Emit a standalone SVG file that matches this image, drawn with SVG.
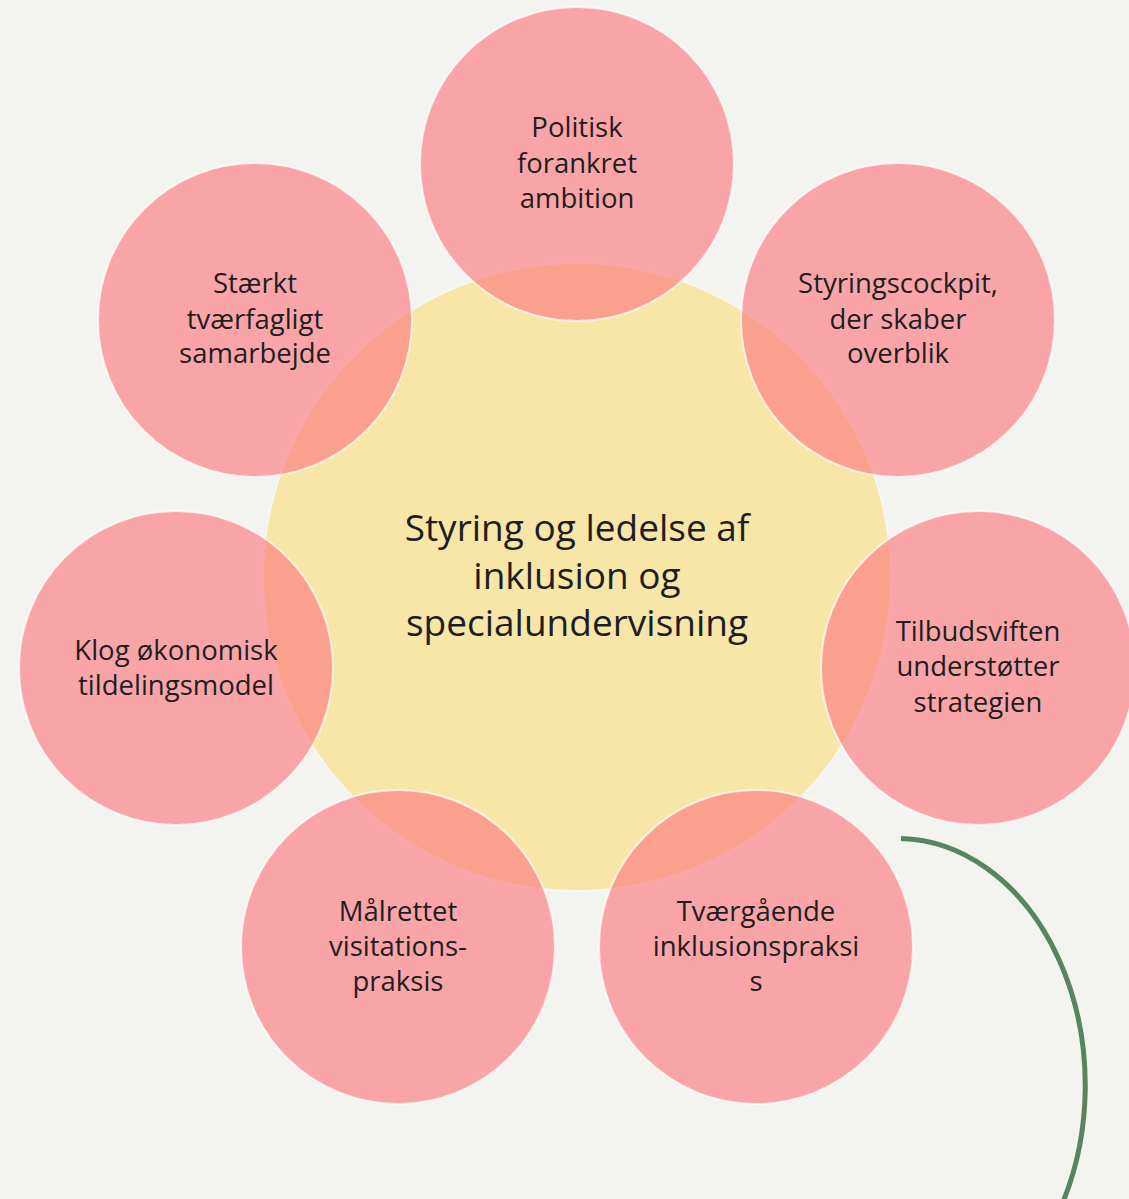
<svg xmlns="http://www.w3.org/2000/svg" width="1129" height="1199" viewBox="0 0 1129 1199">
<style>
.bg{fill:#f3f3ef}
.core{fill:#f8e6a8;stroke:#f6f6f2;stroke-width:2}
.petal{fill:#fb747c;fill-opacity:0.62;stroke:#ffffff;stroke-opacity:0.7;stroke-width:2}
.lbl{font-family:"Open Sans","Liberation Sans",Arial,sans-serif;font-size:27.5px;fill:#1e1e1e;text-anchor:middle}
.main{font-family:"Open Sans","Liberation Sans",Arial,sans-serif;font-size:37px;fill:#1e1e1e;text-anchor:middle}
.conn{fill:none;stroke:#578560;stroke-width:5}
</style>
<rect class="bg" x="0" y="0" width="1129" height="1199"/>
<g id="center">
<circle class="core" cx="577" cy="577" r="314"/>
<text class="main"><tspan x="577" y="541">Styring og ledelse af</tspan><tspan x="577" y="589">inklusion og</tspan><tspan x="577" y="636">specialundervisning</tspan></text>
</g>
<g id="n-top">
<circle class="petal" cx="577" cy="164" r="157"/>
<text class="lbl"><tspan x="577" y="137">Politisk</tspan><tspan x="577" y="173">forankret</tspan><tspan x="577" y="208">ambition</tspan></text>
</g>
<g id="n-topright">
<circle class="petal" cx="898" cy="320" r="157"/>
<text class="lbl"><tspan x="898" y="293">Styringscockpit,</tspan><tspan x="898" y="329">der skaber</tspan><tspan x="898" y="363">overblik</tspan></text>
</g>
<g id="n-right">
<circle class="petal" cx="978" cy="668" r="157"/>
<text class="lbl"><tspan x="978" y="641">Tilbudsviften</tspan><tspan x="978" y="676">understøtter</tspan><tspan x="978" y="712">strategien</tspan></text>
</g>
<g id="n-bottomright">
<circle class="petal" cx="756" cy="947" r="157"/>
<text class="lbl"><tspan x="756" y="921">Tværgående</tspan><tspan x="756" y="956">inklusionspraksi</tspan><tspan x="756" y="991">s</tspan></text>
</g>
<g id="n-bottomleft">
<circle class="petal" cx="398" cy="947" r="157"/>
<text class="lbl"><tspan x="398" y="921">Målrettet</tspan><tspan x="398" y="956">visitations-</tspan><tspan x="398" y="991">praksis</tspan></text>
</g>
<g id="n-left">
<circle class="petal" cx="176" cy="668" r="157"/>
<text class="lbl"><tspan x="176" y="660">Klog økonomisk</tspan><tspan x="176" y="695">tildelingsmodel</tspan></text>
</g>
<g id="n-topleft">
<circle class="petal" cx="255" cy="320" r="157"/>
<text class="lbl"><tspan x="255" y="293">Stærkt</tspan><tspan x="255" y="329">tværfagligt</tspan><tspan x="255" y="363">samarbejde</tspan></text>
</g>
<g id="connectors">
<path class="conn" d="M 901 838.5 A 188 247 0 0 1 1063 1202"/>
</g>
</svg>
